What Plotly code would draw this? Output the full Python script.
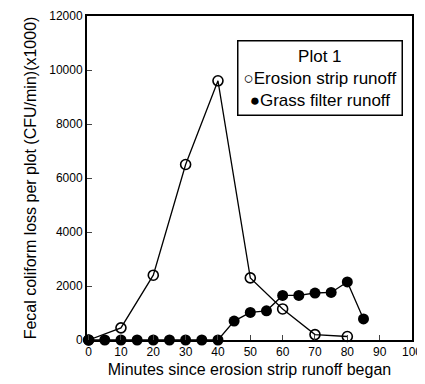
import plotly.graph_objects as go

erosion_x = [0, 10, 20, 30, 40, 50, 60, 70, 80]
erosion_y = [0, 450, 2400, 6500, 9600, 2300, 1150, 200, 130]
grass_x = [0, 5, 10, 15, 20, 25, 30, 35, 40, 45, 50, 55, 60, 65, 70, 75, 80, 85]
grass_y = [0, 0, 0, 0, 0, 0, 0, 0, 0, 700, 1020, 1080, 1650, 1650, 1740, 1760, 2150, 780]
x_ticks = [0, 10, 20, 30, 40, 50, 60, 70, 80, 90, 100]
y_ticks = [0, 2000, 4000, 6000, 8000, 10000, 12000]
y_tick_labels = [str(v) for v in y_ticks]
legend_title = "Plot 1"
names = ["Erosion strip runoff", "Grass filter runoff"]

font = "Liberation Sans, Arial, sans-serif"
fig = go.Figure()
fig.add_trace(go.Scatter(x=grass_x, y=grass_y, mode="lines+markers", name=names[1],
                         line=dict(color="black", width=1.3),
                         marker=dict(symbol="circle", size=11, color="black"),
                         showlegend=False, cliponaxis=False))
fig.add_trace(go.Scatter(x=erosion_x, y=erosion_y, mode="lines+markers", name=names[0],
                         line=dict(color="black", width=1.3),
                         marker=dict(symbol="circle-open", size=10, color="black", line=dict(width=1.6)),
                         showlegend=False, cliponaxis=False))

legend_text = f"{legend_title}<br>○{names[0]}<br>●{names[1]}"
fig.add_annotation(xref="paper", yref="paper", x=0.4615, y=0.926, xanchor="left", yanchor="top",
                   text=legend_text, showarrow=False, align="center",
                   font=dict(size=17, family=font, color="black"),
                   bordercolor="black", borderwidth=1.5, borderpad=5, bgcolor="white")

# page body has an 8px margin, so the figure is made 8px smaller and shifted
fig.update_layout(
    width=417, height=376,
    margin=dict(l=79, r=13, t=8, b=44, autoexpand=False),
    paper_bgcolor="white", plot_bgcolor="white",
    font=dict(family=font, color="black", size=12),
    showlegend=False,
    xaxis=dict(range=[-0.5, 100], tickvals=x_ticks, ticks="inside", ticklen=5,
               showline=True, linecolor="black", linewidth=2, mirror=True, automargin=False,
               showgrid=False, zeroline=False, tickfont=dict(size=12),
               title=dict(text="Minutes since erosion strip runoff began", font=dict(size=16), standoff=5)),
    yaxis=dict(range=[0, 12000], tickvals=y_ticks, ticktext=y_tick_labels, ticks="inside", ticklen=5,
               showline=True, linecolor="black", linewidth=2, mirror=True, automargin=False,
               showgrid=False, zeroline=False, tickfont=dict(size=12),
               title=dict(text="Fecal coliform loss per plot (CFU/min)(x1000)", font=dict(size=16), standoff=9)),
)
fig.write_html("out.html")
